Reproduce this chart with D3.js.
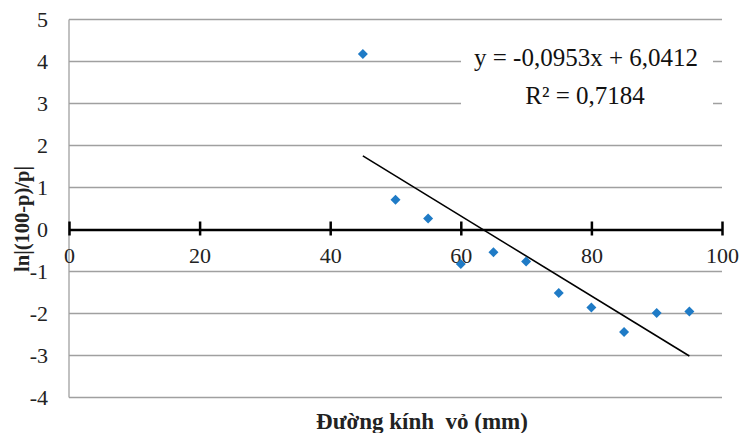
<!DOCTYPE html>
<html><head><meta charset="utf-8">
<script src="https://cdn.jsdelivr.net/npm/d3@7"></script>
<style>body{margin:0;background:#fff}svg{display:block}</style>
</head><body>
<svg id="chart" width="741" height="433"></svg>
<script>
const xValues = [45, 50, 55, 60, 65, 70, 75, 80, 85, 90, 95];
const yValues = [4.18, 0.71, 0.26, -0.82, -0.54, -0.76, -1.51, -1.86, -2.44, -1.99, -1.95];
const xTicks = [0, 20, 40, 60, 80, 100];
const yTicks = [5, 4, 3, 2, 1, 0, -1, -2, -3, -4];
const slope = -0.0953, intercept = 6.0412;
const trendX = [45, 95];
const eqText = "y = -0,0953x + 6,0412";
const r2Text = "R² = 0,7184";
const xTitle = "Đường kính  vỏ (mm)";
const yTitle = "ln|(100-p)/p|";

const svg = d3.select("#chart");
const font = "'Liberation Serif','Times New Roman',serif";
const x = d3.scaleLinear().domain([0, 100]).range([69, 722]);
const y = d3.scaleLinear().domain([-4, 5]).range([397.5, 19.5]);

// gridlines
svg.append("g").selectAll("line").data(yTicks.filter(d => d !== 0)).join("line")
  .attr("x1", x(0)).attr("x2", x(100))
  .attr("y1", d => y(d)).attr("y2", d => y(d))
  .attr("stroke", "#a0a0a0").attr("stroke-width", 1.3);
// y axis line
svg.append("line").attr("x1", x(0)).attr("x2", x(0)).attr("y1", y(5)).attr("y2", y(-4))
  .attr("stroke", "#a0a0a0").attr("stroke-width", 1.3);

// y tick labels
svg.append("g").selectAll("text").data(yTicks).join("text")
  .attr("x", 48).attr("y", d => y(d)).attr("dy", "0.35em")
  .attr("text-anchor", "end").attr("font-family", font).attr("font-size", 22)
  .attr("fill", "#222").text(d => d);

// x axis (at y=0)
const xAxis = d3.axisBottom(x).tickValues(xTicks).tickSize(0).tickFormat(d => d);
const gx = svg.append("g").attr("transform", `translate(0,${y(0)})`).call(xAxis);
gx.select(".domain").attr("stroke", "#000").attr("stroke-width", 2.5);
gx.selectAll(".tick text").attr("font-family", font).attr("font-size", 22)
  .attr("fill", "#222").attr("y", 26).attr("dy", "0.35em");
gx.selectAll(".tick").append("line").attr("y1", -8).attr("y2", 6)
  .attr("stroke", "#000").attr("stroke-width", 2.5);

// label background box
svg.append("rect").attr("x", 461).attr("y", 36).attr("width", 252).attr("height", 76).attr("fill", "#fff");

// trendline
svg.append("line")
  .attr("x1", x(trendX[0])).attr("y1", y(slope * trendX[0] + intercept))
  .attr("x2", x(trendX[1])).attr("y2", y(slope * trendX[1] + intercept))
  .attr("stroke", "#000").attr("stroke-width", 1.6);

// points
svg.append("g").selectAll("path").data(xValues.map((v, i) => [v, yValues[i]])).join("path")
  .attr("d", d3.symbol().type(d3.symbolSquare).size(50))
  .attr("transform", d => `translate(${x(d[0])},${y(d[1])}) rotate(45)`)
  .attr("fill", "#1f7bc6");

// equation
svg.append("text").attr("x", 586).attr("y", 66).attr("text-anchor", "middle")
  .attr("font-family", font).attr("font-size", 25).attr("fill", "#111").text(eqText);
svg.append("text").attr("x", 585).attr("y", 104).attr("text-anchor", "middle")
  .attr("font-family", font).attr("font-size", 25).attr("fill", "#111").text(r2Text);

// axis titles
svg.append("text").attr("x", 422).attr("y", 429).attr("text-anchor", "middle")
  .attr("font-family", font).attr("font-size", 23).attr("font-weight", "bold")
  .attr("fill", "#222").style("white-space", "pre").text(xTitle);
svg.append("text").attr("transform", `translate(22,219) rotate(-90)`)
  .attr("text-anchor", "middle").attr("dy", "0.35em")
  .attr("font-family", font).attr("font-size", 20.5).attr("font-weight", "bold")
  .attr("fill", "#222").text(yTitle);
</script>
</body></html>
